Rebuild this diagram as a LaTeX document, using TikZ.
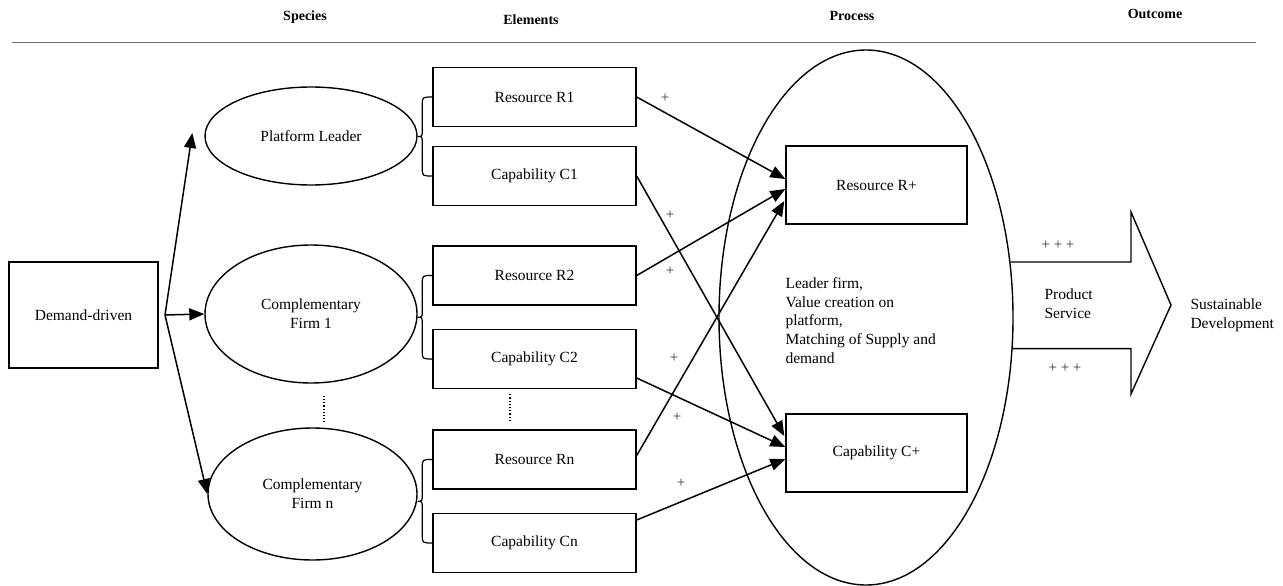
\documentclass[tikz,border=0pt]{standalone}
\usepackage{fontspec}
\setmainfont{Liberation Serif}
\usetikzlibrary{arrows.meta,shapes.geometric,calc}

% curly brace joining two element boxes to the species oval
\newcommand\elembrace[3]{%
  \draw[brace] let \p1=(#1.west), \p2=(#2.west), \p3=(#3.east), \n1={0.5*(\y1+\y2)} in
    (\p1) .. controls (\x1-10pt,\y1) .. (\x1-10pt,\y1-8pt)
    -- (\x1-10pt,\n1+8pt) .. controls (\x1-10pt,\n1) .. (\x3,\n1)
    .. controls (\x1-10pt,\n1) .. (\x1-10pt,\n1-8pt)
    -- (\x1-10pt,\y2+8pt) .. controls (\x1-10pt,\y2) .. (\p2);}

\begin{document}
\begin{tikzpicture}[x=1pt,y=-1pt,
  every node/.style={font=\fontsize{15.5}{18.8}\selectfont},
  box/.style={draw, line width=1.4pt, inner sep=0pt, minimum width=203, minimum height=59},
  procbox/.style={draw, line width=1.4pt, inner sep=0pt, minimum width=181, minimum height=78},
  oval/.style={draw, ellipse, line width=1.4pt, inner sep=0pt, align=center},
  link/.style={line width=1.5pt, -{Triangle[length=15pt,width=12pt]}},
  plus/.style={font=\fontsize{15}{17}\selectfont, text=black!80},
  head/.style={font=\fontsize{14}{16}\selectfont\bfseries},
  brace/.style={line width=1.2pt},
  dotline/.style={dotted, line width=1.2pt}]

\useasboundingbox (0,0) rectangle (1283,586);

% column headings
\node[head] (hSpecies) at (305,17) {Species};
\node[head] (hElements) at (531,20) {Elements};
\node[head] (hProcess) at (852,16) {Process};
\node[head] (hOutcome) at (1155,14) {Outcome};
\draw[black!55, line width=1pt] (12,43) -- (1256,43);

% driver
\node[draw, line width=1.4pt, minimum width=149, minimum height=106, inner sep=0pt] (D) at (83.5,315) {Demand-driven};
\coordinate (fork) at (165,315);

% species
\node[oval, minimum width=212, minimum height=98] (PL) at (311,136) {Platform Leader};
\node[oval, minimum width=212, minimum height=138] (CF1) at (311,314) {Complementary\\Firm 1};
\node[oval, minimum width=209, minimum height=132] (CFn) at (312.5,494) {Complementary\\Firm n};

\draw[link] (fork) -- ($(PL.west)+(-12,-3)$);
\draw[link] (fork) -- (CF1.west);
\draw[link] (fork) -- (CFn.west);
\draw[dotline] ($(CF1.south)+(13,12)$) -- ($(CFn.north)+(11.5,-5)$);

% elements
\node[box] (R1) at (534.5,97) {Resource R1};
\node[box] (C1) at (534.5,176) {Capability C1};
\node[box] (R2) at (534.5,275.5) {Resource R2};
\node[box] (C2) at (534.5,359) {Capability C2};
\node[box] (Rn) at (534.5,459.5) {Resource Rn};
\node[box] (Cn) at (534.5,543) {Capability Cn};
\draw[dotline] ($(C2.south)+(-24.5,5)$) -- ($(Rn.north)+(-24.5,-8)$);

\elembrace{R1}{C1}{PL}
\elembrace{R2}{C2}{CF1}
\elembrace{Rn}{Cn}{CFn}

% process
\node[draw, ellipse, line width=1.4pt, minimum width=294, minimum height=535, inner sep=0pt] (P) at (866,317.5) {};
\node[procbox] (Rp) at (876.5,185) {Resource R+};
\node[procbox] (Cp) at (876.5,453) {Capability C+};
\node[align=left, anchor=west] (ptext) at (782,320.5) {Leader firm,\\Value creation on\\platform,\\Matching of Supply and\\demand};

\draw[link] (R1.east) -- ($(Rp.west)+(0,-6)$);
\draw[link] (R2.east) -- ($(Rp.west)+(0,4)$);
\draw[link] ($(Rn.east)+(0,-4)$) -- ($(Rp.west)+(-1,16)$);
\draw[link] (C1.east) -- ($(Cp.west)+(-1,-17)$);
\draw[link] ($(C2.east)+(0,19)$) -- ($(Cp.west)+(0,-6)$);
\draw[link] ($(Cn.east)+(0,-23)$) -- ($(Cp.west)+(0,6)$);

\node[plus] (p1) at (665,98) {+};
\node[plus] (p2) at (670,215) {+};
\node[plus] (p3) at (670,271) {+};
\node[plus] (p4) at (674,358) {+};
\node[plus] (p5) at (677,417) {+};
\node[plus] (p6) at (681,483) {+};

% outcome arrow
\coordinate (sh) at (1131,305);
\coordinate (tip) at (1171,305);
\draw[line width=1.4pt, line join=miter]
  (P.21.8) -- (P.21.8 -| sh) -- (1131,212) -- (tip) -- (1131,394)
  -- (P.-12.6 -| sh) -- (P.-12.6);
\node[plus] (ppp1) at (1058,245) {+ + +};
\node[plus] (ppp2) at (1065,368) {+ + +};
\node[align=left, anchor=west] (ps) at (1041,303.5) {Product\\Service};
\node[align=left, anchor=west] (sd) at (1187,315) {Sustainable\\Development};

\end{tikzpicture}
\end{document}
